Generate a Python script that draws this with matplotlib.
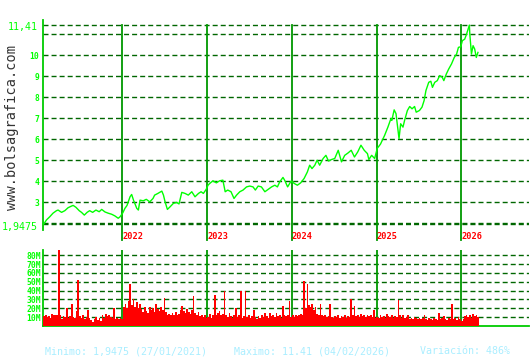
import matplotlib
matplotlib.use("Agg")
import matplotlib.pyplot as plt
import matplotlib.transforms as mtransforms
import pandas as pd

# ---------------- data ----------------
price_dates_2021 = ["2021-01-27", "2021-02-08", "2021-02-22", "2021-03-08", "2021-03-23", "2021-03-30",
                    "2021-04-14", "2021-04-28", "2021-05-12", "2021-05-27", "2021-06-03", "2021-06-15",
                    "2021-06-29", "2021-07-09", "2021-07-21", "2021-08-02", "2021-08-13", "2021-08-26",
                    "2021-09-09", "2021-09-23", "2021-10-04", "2021-10-18", "2021-11-01", "2021-11-16",
                    "2021-11-30", "2021-12-14", "2021-12-22"]
price_vals_2021 = [1.95, 2.15, 2.30, 2.47, 2.59, 2.62, 2.51, 2.59, 2.73, 2.81, 2.84, 2.75,
                   2.59, 2.51, 2.38, 2.51, 2.59, 2.51, 2.62, 2.54, 2.65, 2.53, 2.47, 2.42,
                   2.34, 2.23, 2.30]

price_dates_2022 = ["2022-01-03", "2022-01-12", "2022-01-21", "2022-02-03", "2022-02-10", "2022-02-18",
                    "2022-03-04", "2022-03-11", "2022-03-18", "2022-04-01", "2022-04-14", "2022-04-29",
                    "2022-05-13", "2022-05-20", "2022-06-03", "2022-06-20", "2022-06-27", "2022-07-04",
                    "2022-07-14", "2022-07-26", "2022-08-09", "2022-08-23", "2022-09-02", "2022-09-14",
                    "2022-09-28", "2022-10-12", "2022-10-27", "2022-11-10", "2022-11-25", "2022-12-06",
                    "2022-12-16", "2022-12-28"]
price_vals_2022 = [2.49, 2.70, 2.84, 3.25, 3.36, 3.09, 2.70, 2.62, 3.09, 3.06, 3.13, 3.01,
                   3.17, 3.33, 3.41, 3.52, 3.33, 3.01, 2.65, 2.78, 2.94, 2.98, 2.91, 3.46,
                   3.41, 3.33, 3.49, 3.25, 3.41, 3.49, 3.41, 3.60]

price_dates_2023 = ["2023-01-05", "2023-01-12", "2023-01-26", "2023-02-10", "2023-02-24", "2023-03-10",
                    "2023-03-20", "2023-03-31", "2023-04-14", "2023-04-27", "2023-05-08", "2023-05-22",
                    "2023-06-05", "2023-06-20", "2023-07-04", "2023-07-18", "2023-07-28", "2023-08-09",
                    "2023-08-23", "2023-09-07", "2023-09-21", "2023-10-06", "2023-10-20", "2023-10-31",
                    "2023-11-10", "2023-11-24", "2023-12-01", "2023-12-14", "2023-12-29"]
price_vals_2023 = [3.80, 3.88, 4.01, 3.91, 4.01, 4.04, 3.49, 3.57, 3.49, 3.17, 3.33, 3.49,
                   3.57, 3.72, 3.76, 3.72, 3.57, 3.76, 3.72, 3.49, 3.60, 3.72, 3.80, 3.72,
                   3.96, 4.17, 4.04, 3.72, 4.00]

price_dates_2024 = ["2024-01-12", "2024-01-25", "2024-02-08", "2024-02-23", "2024-03-08", "2024-03-18",
                    "2024-03-28", "2024-04-09", "2024-04-19", "2024-04-30", "2024-05-15", "2024-05-27",
                    "2024-06-07", "2024-06-20", "2024-07-04", "2024-07-19", "2024-08-02", "2024-08-16",
                    "2024-08-30", "2024-09-13", "2024-09-27", "2024-10-11", "2024-10-25", "2024-11-08",
                    "2024-11-22", "2024-11-28", "2024-12-10", "2024-12-23"]
price_vals_2024 = [3.88, 3.80, 3.91, 4.12, 4.43, 4.75, 4.59, 4.75, 4.99, 4.75, 5.07, 5.22,
                   4.95, 5.02, 5.07, 5.46, 4.91, 5.22, 5.33, 5.46, 5.14, 5.38, 5.70, 5.46,
                   5.30, 5.02, 5.22, 5.07]

price_dates_2025 = ["2025-01-03", "2025-01-17", "2025-02-04", "2025-02-18", "2025-03-03", "2025-03-07",
                    "2025-03-17", "2025-03-25", "2025-04-07", "2025-04-14", "2025-04-24", "2025-05-01",
                    "2025-05-13", "2025-05-23", "2025-06-02", "2025-06-13", "2025-06-20", "2025-07-04",
                    "2025-07-15", "2025-07-24", "2025-08-01", "2025-08-13", "2025-08-22", "2025-08-29",
                    "2025-09-08", "2025-09-19", "2025-09-29", "2025-10-10", "2025-10-17", "2025-10-28",
                    "2025-11-07", "2025-11-19", "2025-12-01", "2025-12-11", "2025-12-19", "2025-12-29"]
price_vals_2025 = [5.55, 5.75, 6.17, 6.56, 6.96, 6.88, 7.38, 7.20, 6.01, 6.72, 6.56, 6.88,
                   7.35, 7.54, 7.43, 7.54, 7.27, 7.35, 7.51, 7.82, 8.30, 8.69, 8.74, 8.45,
                   8.69, 8.77, 9.01, 8.93, 8.77, 9.09, 9.32, 9.56, 9.87, 10.03, 10.35, 10.38]

price_dates_2026 = ["2026-01-05", "2026-01-15", "2026-01-23", "2026-02-04", "2026-02-06", "2026-02-13",
                    "2026-02-20", "2026-02-27", "2026-03-06", "2026-03-13"]
price_vals_2026 = [10.67, 10.74, 10.98, 11.41, 10.98, 10.03, 10.43, 10.27, 9.87, 10.11]

# weekly volume (millions), Fridays starting 2021-01-29
vol_2021 = [11, 12, 10, 11, 9, 14, 12, 13, 12, 86, 12, 8, 11, 10, 20, 9, 11, 25, 10, 9, 17, 52,
            11, 9, 12, 8, 10, 18, 9, 7, 4, 8, 10, 7, 9, 6, 12, 9, 14, 11, 13, 10, 9, 20, 8, 9, 8, 9, 8]
vol_2022 = [22, 25, 20, 28, 48, 24, 30, 22, 27, 20, 25, 19, 16, 22, 17, 15, 22, 18, 20, 16, 25, 19,
            17, 22, 18, 32, 16, 13, 14, 12, 15, 13, 16, 12, 14, 18, 23, 17, 15, 19, 16, 14, 18, 34,
            15, 12, 16, 11, 13, 10, 12, 9]
vol_2023 = [10, 14, 9, 12, 35, 13, 15, 17, 12, 14, 40, 12, 10, 15, 11, 9, 13, 20, 10, 12, 40, 9,
            11, 40, 10, 12, 9, 11, 18, 10, 8, 11, 9, 12, 10, 15, 11, 9, 15, 11, 13, 10, 15, 11,
            12, 9, 23, 12, 11, 13, 28, 10]
vol_2024 = [12, 10, 13, 11, 12, 14, 13, 51, 20, 47, 24, 22, 25, 18, 22, 14, 12, 25, 13, 11, 12, 10,
            11, 25, 10, 9, 11, 10, 12, 9, 11, 10, 12, 9, 11, 10, 30, 12, 23, 11, 13, 10, 14, 11,
            12, 10, 13, 11, 12, 10, 18, 9]
vol_2025 = [10, 9, 12, 10, 11, 9, 14, 11, 10, 12, 9, 11, 10, 29, 12, 9, 12, 9, 10, 12, 8, 9,
            8, 10, 9, 8, 9, 8, 9, 13, 8, 7, 9, 8, 7, 9, 8, 7, 15, 8, 9, 11, 8, 7, 9, 8, 25, 8,
            9, 7, 10, 8]
vol_2026 = [6, 8, 11, 13, 10, 12, 9, 14, 11, 13, 10]

year_marks = ["2022-01-01", "2023-01-01", "2024-01-01", "2025-01-01", "2026-01-01"]
year_labels = ["2022", "2023", "2024", "2025", "2026"]
price_ticks = [3, 4, 5, 6, 7, 8, 9, 10]
price_grid = [2, 3, 4, 5, 6, 7, 8, 9, 10, 11]
price_min, price_max = 1.9475, 11.41
price_min_label, price_max_label = "1,9475", "11,41"
vol_ticks = [10, 20, 30, 40, 50, 60, 70, 80]
vol_tick_labels = ["10M", "20M", "30M", "40M", "50M", "60M", "70M", "80M"]
summary_min = "Minimo: 1,9475 (27/01/2021)"
summary_max = "Maximo: 11.41 (04/02/2026)"
summary_var = "Variación: 486%"
watermark = "www.bolsagrafica.com"

# ---------------- build ----------------
price_dates = pd.to_datetime(price_dates_2021 + price_dates_2022 + price_dates_2023 +
                             price_dates_2024 + price_dates_2025 + price_dates_2026)
price_vals = (price_vals_2021 + price_vals_2022 + price_vals_2023 +
              price_vals_2024 + price_vals_2025 + price_vals_2026)
vol_vals = vol_2021 + vol_2022 + vol_2023 + vol_2024 + vol_2025 + vol_2026
vol_dates = pd.date_range("2021-01-29", periods=len(vol_vals), freq="W-FRI")
years = pd.to_datetime(year_marks)

W, H = 530, 360
fig = plt.figure(figsize=(W / 100, H / 100), dpi=100)
fig.patch.set_facecolor("white")

MONO = "DejaVu Sans Mono"
GRID_C = "#006600"
YEAR_C = "#009900"
SPINE_C = "#00cc00"
LABEL_C = "#00ff00"
DASH = (0, (3.6, 2.2))

xl = pd.to_datetime(["2021-01-24", "2026-10-19"])
left_px, right_px = 43, 529

# main price axes: px 20..230
ax = fig.add_axes([left_px / W, 1 - 230 / H, (right_px - left_px) / W, 210 / H])
ax.set_xlim(xl[0], xl[1])
ax.set_ylim(1.672, 11.65)
ax.set_facecolor("white")
for s in ["top", "right", "bottom"]:
    ax.spines[s].set_visible(False)
ax.spines["left"].set_color(SPINE_C)
ax.spines["left"].set_linewidth(1.3)
ax.set_xticks([])
ax.set_yticks([])

for g in price_grid + [price_min, price_max]:
    ax.axhline(g, color=GRID_C, lw=1.0, linestyle=DASH, zorder=1)
for yd in years:
    ax.axvline(yd, ymin=-0.048, ymax=0.976, color=YEAR_C, lw=1.3, clip_on=False, zorder=2)

ax.plot(price_dates, price_vals, color="#00ff00", lw=1.0, zorder=3)

ytr = ax.get_yaxis_transform()
for t in price_ticks:
    ax.text(-0.008, t - 0.09, str(t), transform=ytr, ha="right", va="center",
            fontsize=5.8, fontweight="bold", family=MONO, color=LABEL_C)
ax.text(-0.01, price_max - 0.08, price_max_label, transform=ytr, ha="right", va="center",
        fontsize=7.2, family=MONO, color=LABEL_C)
ax.text(-0.01, price_min - 0.12, price_min_label, transform=ytr, ha="right", va="center",
        fontsize=7.2, family=MONO, color=LABEL_C)

btr = mtransforms.blended_transform_factory(ax.transData, fig.transFigure)
for yd, lab in zip(years, year_labels):
    ax.text(yd, 1 - 236.3 / H, lab, transform=btr, ha="left", va="center",
            fontsize=6.2, fontweight="bold", family=MONO, color="#ff0000")

# volume axes: px 250..326
vx = fig.add_axes([left_px / W, 1 - 326 / H, (right_px - left_px) / W, 76 / H])
vx.set_xlim(xl[0], xl[1])
vx.set_ylim(0, 86)
vx.set_facecolor("white")
for s in ["top", "right"]:
    vx.spines[s].set_visible(False)
vx.spines["left"].set_color(SPINE_C)
vx.spines["left"].set_linewidth(1.3)
vx.spines["bottom"].set_color(SPINE_C)
vx.spines["bottom"].set_linewidth(1.3)
vx.set_xticks([])
vx.set_yticks(vol_ticks)
vx.set_yticklabels(vol_tick_labels, fontsize=5.8, fontweight="bold", family=MONO, color=LABEL_C)
vx.tick_params(axis="y", length=0, pad=1.5)

for g in vol_ticks:
    vx.axhline(g, color=GRID_C, lw=1.0, linestyle=DASH, zorder=1)
for yd in years:
    vx.axvline(yd, color=YEAR_C, lw=1.3, zorder=2)
vx.bar(vol_dates, vol_vals, width=7, color="#ff0000", align="center", zorder=3, linewidth=0)

# texts
fig.text(12 / W, 1 - 127 / H, watermark, rotation=90, ha="center", va="center",
         fontsize=9.8, family=MONO, color="#333333")
ty = 1 - 351 / H
fig.text(45 / W, ty, summary_min, ha="left", va="center", fontsize=7.2, family=MONO, color="#aaeeff")
fig.text(234 / W, ty, summary_max, ha="left", va="center", fontsize=7.2, family=MONO, color="#aaeeff")
fig.text(420 / W, ty, summary_var, ha="left", va="center", fontsize=7.2, family=MONO, color="#aaeeff")

fig.savefig("out.png", dpi=100, facecolor="white")
